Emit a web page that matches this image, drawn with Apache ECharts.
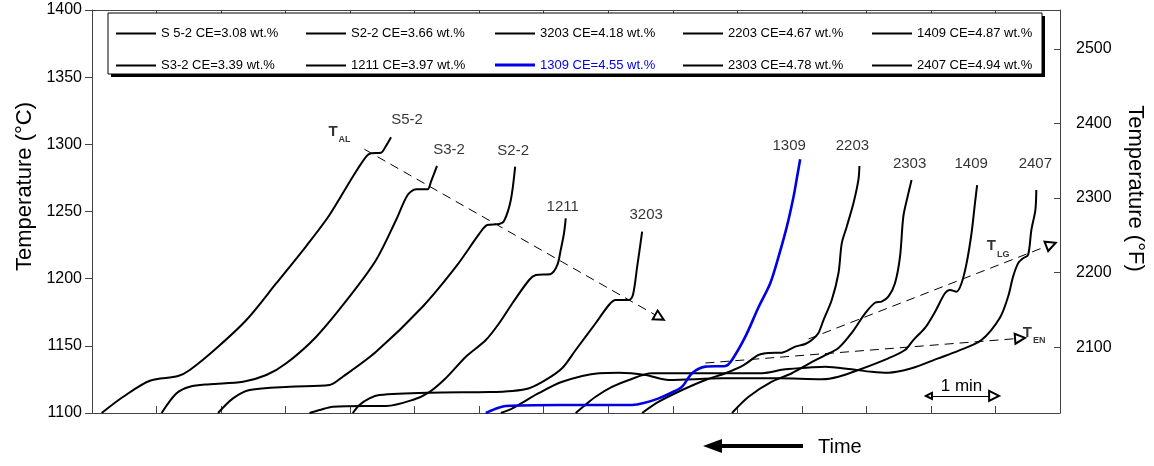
<!DOCTYPE html>
<html><head><meta charset="utf-8">
<script src="https://cdn.jsdelivr.net/npm/echarts@6/dist/echarts.min.js"></script>
<style>html,body{margin:0;padding:0;background:#fff}#c{width:1154px;height:466px}</style>
</head><body><div id="c"></div>
<script>
const FONT = '"Liberation Sans", Arial, Helvetica, sans-serif';

// legend names (series order by CE)
const seriesNames = ['S 5-2 CE=3.08 wt.%','S3-2 CE=3.39 wt.%','S2-2 CE=3.66 wt.%','1211 CE=3.97 wt.%','3203 CE=4.18 wt.%',
  '1309 CE=4.55 wt.%','2203 CE=4.67 wt.%','2303 CE=4.78 wt.%','1409 CE=4.87 wt.%','2407 CE=4.94 wt.%'];
const curveLabels = ['S5-2','S3-2','S2-2','1211','3203','1309','2203','2303','1409','2407'];

// [time (min), temperature (°C)]
const s52 = [[0.15,1100],[0.484,1112.1],[0.897,1124],[1.334,1127.5],[1.515,1132],[1.928,1148.2],[2.392,1169.2],[2.856,1196.6],
  [3.32,1224.3],[3.68,1247.4],[4.041,1275.9],[4.248,1290.8],[4.325,1293.3],[4.48,1293.8],[4.546,1298],[4.634,1305.2]];
const s32 = [[1.078,1100],[1.31,1114.7],[1.515,1119.6],[1.825,1121.4],[2.34,1123.3],[2.701,1128.3],[3.011,1137],[3.475,1156.8],
  [3.99,1186.6],[4.402,1213.9],[4.712,1243.7],[4.891,1262.3],[5.021,1266.5],[5.2,1266.5],[5.253,1272.2],[5.346,1283.9]];
const s22 = [[1.953,1100],[2.185,1110.9],[2.443,1117.1],[3.062,1119.6],[3.68,1120.8],[3.886,1127],[4.402,1145.6],[5.123,1179.1],
  [5.64,1208.9],[6.0,1233.3],[6.124,1240],[6.309,1240.7],[6.386,1243],[6.49,1258.6],[6.557,1283.4]];
const c1211 = [[3.371,1100],[3.526,1102.2],[3.731,1104.7],[4.248,1105.2],[4.557,1105.2],[4.968,1109.7],[5.227,1115.6],[5.485,1126.1],
  [5.794,1141.9],[6.103,1154.3],[6.309,1166.8],[6.515,1181.7],[6.773,1199],[6.877,1202.7],[7.109,1203.5],[7.211,1210.2],
  [7.263,1221.3],[7.314,1233.8],[7.341,1244.9]];
const c3203 = [[4.041,1100],[4.144,1106],[4.299,1110.9],[4.453,1113.4],[5.227,1115.1],[6.155,1115.6],[6.515,1116.4],[6.773,1118.4],
  [7.031,1124.6],[7.288,1133.5],[7.495,1146.9],[7.804,1166.8],[8.01,1180.4],[8.114,1184.1],[8.32,1184.1],[8.382,1187.8],
  [8.448,1208.9],[8.525,1235]];
const c1309 = [[6.103,1100],[6.247,1103],[6.413,1105.2],[7.237,1106],[8.37,1106],[8.551,1107.4],[8.783,1110.9],[8.969,1114.9],
  [9.144,1119.6],[9.298,1129.6],[9.505,1134.5],[9.815,1135],[9.917,1139.5],[10.124,1156.8],[10.33,1178.9],[10.51,1196.6],
  [10.639,1216.4],[10.767,1238.7],[10.871,1261],[10.922,1274.7],[10.974,1288.9]];
const c2203 = [[8.525,1100],[8.783,1108.4],[9.144,1117.1],[9.505,1124.6],[9.815,1129.6],[10.098,1135.7],[10.33,1143.2],[10.485,1144.7],
  [10.69,1144.9],[10.897,1149.4],[11.052,1151.4],[11.154,1154.3],[11.257,1159.6],[11.335,1169.2],[11.463,1184.1],[11.567,1204],
  [11.618,1226.3],[11.695,1238.7],[11.799,1256.1],[11.876,1273.5],[11.892,1283.9]];
const c2303 = [[9.917,1100],[10.175,1112.1],[10.535,1123.3],[10.845,1129.6],[11.103,1136.5],[11.335,1142.4],[11.567,1148.4],
  [11.772,1159.6],[11.98,1174.2],[12.134,1182.1],[12.236,1182.9],[12.34,1186.6],[12.443,1196.6],[12.521,1216.4],[12.572,1246.1],
  [12.638,1261],[12.7,1273.5]];
const c1409 = [[6.335,1100],[6.515,1103.5],[6.928,1114.9],[7.288,1123.3],[7.857,1129.6],[8.166,1130],[8.578,1128.3],[8.938,1124.6],
  [9.762,1125.8],[10.639,1125.8],[11.308,1125.1],[11.567,1127],[11.876,1132],[12.34,1140.7],[12.598,1146.9],[12.727,1154.3],
  [12.908,1163.3],[13.062,1175.2],[13.217,1189.1],[13.295,1191.6],[13.397,1190.3],[13.474,1196.6],[13.552,1211.4],[13.629,1233.8],
  [13.682,1256.1],[13.716,1269.7]];
const c2407 = [[7.495,1100],[7.624,1105.2],[7.804,1112.1],[8.057,1119.4],[8.32,1124.6],[8.675,1129.6],[9.247,1129.6],[10.381,1129.6],
  [10.743,1132.5],[11.154,1134],[11.361,1134.5],[11.772,1132.5],[12.082,1130.7],[12.34,1130],[12.7,1133.3],[13.113,1140.7],
  [13.422,1146.2],[13.783,1154.3],[14.067,1170.7],[14.196,1186.6],[14.273,1201.5],[14.35,1211.4],[14.428,1215.2],[14.505,1217.6],
  [14.556,1236.2],[14.618,1251.1],[14.633,1266]];
const curves = [s52, s32, s22, c1211, c3203, c1309, c2203, c2303, c1409, c2407];

// axis ticks
const fTicks = [2100, 2200, 2300, 2400, 2500];

// annotation arrows [time, °C]
const alArrow = [[4.222,1296.3],[8.794,1171.2]];
const lgArrow = [[11.103,1155.1],[14.861,1225.4]];
const enArrow = [[9.505,1137.2],[14.381,1155.6]];
const minArrow = [[12.969,1112.7],[13.979,1112.7]];
const annotNames = ['AL','LG','EN'];
const annotPos = [[3.835,1309.2],[14.04,1224.3],[14.60,1159.6]];

const BLUE = '#0000e6';
const labelOffsets = [[16,-17],[12,-16],[-2,-16],[-3,-11],[4,-17],[-11,-13],[-7,-20],[-2,-16],[-6,-21],[-1,-26]];
const legendCols = [116, 306, 495, 683, 872];
const legendRows = [27, 59];

const chart = echarts.init(document.getElementById('c'), null, {renderer:'canvas'});

const axisColor = '#444';
const curveSeries = curves.map((d, i) => ({
  name: seriesNames[i], type: 'line', data: d, symbol: 'none', showSymbol: false,
  smooth: 0.3, xAxisIndex: 0, yAxisIndex: 0,
  lineStyle: {color: i === 5 ? BLUE : '#000', width: i === 5 ? 2.6 : 2},
  itemStyle: {color: i === 5 ? BLUE : '#000'},
  z: i === 5 ? 3 : 2, silent: true
}));

const legends = seriesNames.map((n, i) => ({
  data: [{name: n, icon: 'rect', textStyle: {color: i === 5 ? BLUE : '#000'}}],
  left: legendCols[Math.floor(i / 2)], top: legendRows[i % 2] - (i === 5 ? 0.5 : 0),
  itemWidth: 40, itemHeight: i === 5 ? 3 : 2, itemGap: 0, padding: 0, selectedMode: false,
  itemStyle: {color: i === 5 ? BLUE : '#000', borderWidth: 0},
  textStyle: {fontSize: 13, fontFamily: FONT, color: '#000'}
}));

const arrowLine = (coords, dashed, both) => ({
  type: 'lines', coordinateSystem: 'cartesian2d', xAxisIndex: 0, yAxisIndex: 0, silent: true,
  data: [{coords: coords}],
  symbol: both ? ['emptyTriangle', 'emptyTriangle'] : ['none', 'emptyTriangle'],
  symbolSize: [6, 10],
  lineStyle: {color: '#000', width: 1, type: dashed ? [9, 6] : 'solid', opacity: 1, curveness: 0},
  z: 4
});

const plain = v => String(v);

const option = {
  animation: false,
  textStyle: {fontFamily: FONT},
  grid: {left: 92, right: 92, top: 10, bottom: 53},
  legend: legends,
  graphic: [
    {type: 'rect', shape: {x: 111, y: 16, width: 934, height: 61}, style: {fill: '#000'}, z: 0},
    {type: 'rect', shape: {x: 108, y: 13, width: 934, height: 61}, style: {fill: '#fff', stroke: '#000', lineWidth: 1}, z: 1},
    {type: 'line', shape: {x1: 718, y1: 446, x2: 803, y2: 446}, style: {stroke: '#000', lineWidth: 4}},
    {type: 'polygon', shape: {points: [[703, 446], [722, 439], [722, 453]]}, style: {fill: '#000'}},
    {type: 'text', x: 818, y: 447, style: {text: 'Time', fontSize: 20, fontFamily: FONT, fill: '#000', verticalAlign: 'middle'}}
  ],
  xAxis: [0, 1].map(k => ({
    type: 'value', min: 0, max: 15, interval: 1, position: k ? 'top' : 'bottom',
    axisLine: {show: true, onZero: false, lineStyle: {color: axisColor, width: 1}},
    axisTick: {show: true, inside: true, length: 7, lineStyle: {color: axisColor}},
    axisLabel: {show: false}, splitLine: {show: false}
  })),
  yAxis: [
    {type: 'value', min: 1100, max: 1400, interval: 50, position: 'left',
     name: 'Temperature (°C)', nameLocation: 'middle', nameGap: 52, nameRotate: 90,
     nameTextStyle: {fontSize: 22, color: '#000', fontFamily: FONT, padding: [0, 0, 0, 50]},
     axisLine: {show: true, onZero: false, lineStyle: {color: axisColor}},
     axisTick: {show: true, inside: false, length: 7, lineStyle: {color: axisColor}},
     axisLabel: {fontSize: 16, color: '#000', margin: 10, fontFamily: FONT, formatter: plain},
     splitLine: {show: false}},
    {type: 'value', min: 2012, max: 2552, position: 'right',
     name: 'Temperature (°F)', nameLocation: 'middle', nameGap: 64, nameRotate: -90,
     nameTextStyle: {fontSize: 22, color: '#000', fontFamily: FONT, padding: [0, 46, 0, 0]},
     axisLine: {show: true, onZero: false, lineStyle: {color: axisColor}},
     axisTick: {show: true, inside: true, length: 6, customValues: fTicks, lineStyle: {color: axisColor}},
     axisLabel: {fontSize: 16, color: '#000', margin: 16, customValues: fTicks, fontFamily: FONT, formatter: plain},
     splitLine: {show: false}}
  ],
  series: curveSeries.concat([
    {type: 'scatter', xAxisIndex: 0, yAxisIndex: 0, symbolSize: 0, silent: true, z: 5,
     data: curves.map((d, i) => ({value: d[d.length - 1],
       label: {show: true, position: 'inside', formatter: curveLabels[i], offset: labelOffsets[i],
               fontSize: 15, color: '#000', fontFamily: FONT}}))},
    arrowLine(alArrow, true, false),
    arrowLine(lgArrow, true, false),
    arrowLine(enArrow, true, false),
    Object.assign(arrowLine(minArrow, false, true), {
      label: {show: true, position: 'middle', formatter: '1 min', fontSize: 17, color: '#000', distance: 1, fontFamily: FONT}
    }),
    {type: 'scatter', xAxisIndex: 0, yAxisIndex: 0, symbolSize: 0, silent: true, z: 5,
     data: annotPos.map((p, i) => ({value: p,
       label: {show: true, position: 'inside', formatter: '{t|T}{s|' + annotNames[i] + '}',
         rich: {t: {fontSize: 15, fontWeight: 'bold', color: '#000', fontFamily: FONT},
                s: {fontSize: 9, fontWeight: 'bold', color: '#000', fontFamily: FONT, padding: [16, 0, 0, 1]}}}}))}
  ])
};
chart.setOption(option);
</script></body></html>
